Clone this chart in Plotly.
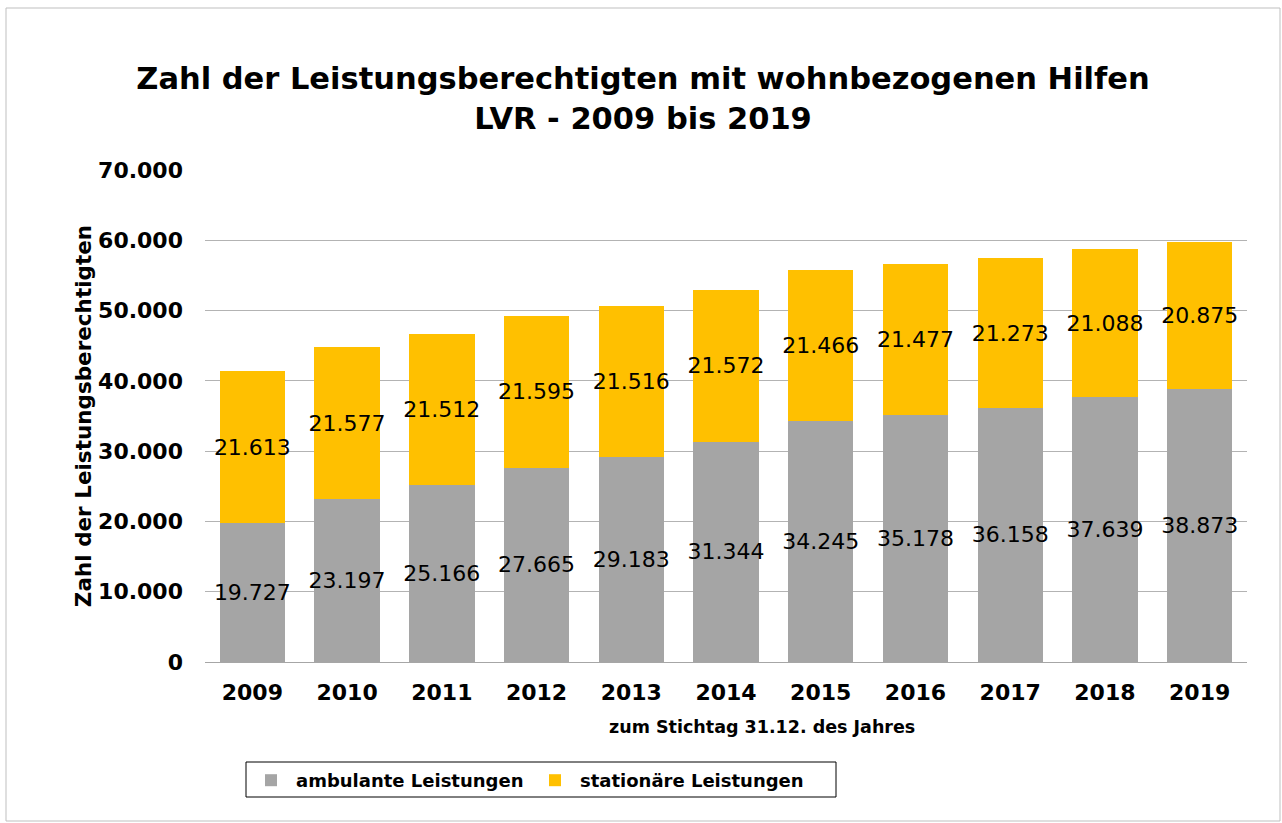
import plotly.graph_objects as go

years = ["2009", "2010", "2011", "2012", "2013", "2014", "2015", "2016", "2017", "2018", "2019"]
ambulant = [19727, 23197, 25166, 27665, 29183, 31344, 34245, 35178, 36158, 37639, 38873]
stationaer = [21613, 21577, 21512, 21595, 21516, 21572, 21466, 21477, 21273, 21088, 20875]

W, H = 1282, 823
L, R, T, B = 205, 1247, 170, 662  # plot area pixels

def px_x(p):
    return (p - L) / (R - L)

def px_y(p):
    return (B - p) / (B - T)

FONT = "DejaVu Sans"

fig = go.Figure()
fig.add_trace(go.Bar(
    x=years, y=ambulant, name="<b>ambulante Leistungen</b>",
    marker=dict(color="#A5A5A5", line=dict(width=0)),
    texttemplate="%{y:,}", textposition="inside", insidetextanchor="middle",
    textangle=0, constraintext="none",
    textfont=dict(family=FONT, size=22, color="black"),
))
fig.add_trace(go.Bar(
    x=years, y=stationaer, name="<b>stationäre Leistungen</b>",
    marker=dict(color="#FFC000", line=dict(width=0)),
    texttemplate="%{y:,}", textposition="inside", insidetextanchor="middle",
    textangle=0, constraintext="none",
    textfont=dict(family=FONT, size=22, color="black"),
))

fig.update_layout(
    width=W, height=H,
    barmode="stack", bargap=0.31,
    separators=",.",
    paper_bgcolor="white", plot_bgcolor="white",
    margin=dict(l=L, r=W - R, t=T, b=H - B, pad=0),
    font=dict(family=FONT, color="black"),
    title=dict(
        text="<b>Zahl der Leistungsberechtigten mit wohnbezogenen Hilfen<br>LVR - 2009 bis 2019</b>",
        font=dict(family=FONT, size=30.5, color="black"),
        x=643 / W, xanchor="center", xref="container",
        y=1 - 89 / H, yanchor="middle", yref="container",
    ),
    xaxis=dict(
        showgrid=False, showline=True, linecolor="#A6A6A6", linewidth=1,
        ticks="", tickfont=dict(family=FONT, size=22, color="black"),
        ticklabelstandoff=11,
    ),
    yaxis=dict(
        range=[0, 70000], dtick=10000, tickformat=",",
        showgrid=True, gridcolor="#B3B3B3", gridwidth=1,
        zeroline=False, showline=False, ticks="",
        tickfont=dict(family=FONT, size=22, color="black"),
        ticklabelstandoff=21,
        title=dict(text="<b>Zahl der Leistungsberechtigten</b>",
                   font=dict(family=FONT, size=21.5, color="black"), standoff=0),
    ),
    annotations=[dict(
        text="<b>zum Stichtag 31.12. des Jahres</b>",
        xref="paper", yref="paper", x=px_x(762), y=px_y(727),
        xanchor="center", yanchor="middle", showarrow=False,
        font=dict(family=FONT, size=17.5, color="black"),
    )],
    showlegend=True,
    legend=dict(
        orientation="h",
        x=px_x(246), xanchor="left", y=px_y(762), yanchor="top",
        borderwidth=0, bgcolor="rgba(0,0,0,0)",
        font=dict(family=FONT, size=18, color="black"),
        traceorder="normal", entrywidth=229, entrywidthmode="pixels",
        itemwidth=40,
    ),
    shapes=[
        dict(
            type="rect", xref="paper", yref="paper",
            x0=px_x(6), x1=px_x(1280), y0=px_y(821), y1=px_y(8),
            line=dict(color="#BFBFBF", width=1), fillcolor="rgba(0,0,0,0)", layer="below",
        ),
        dict(
            type="rect", xref="paper", yref="paper",
            x0=px_x(246), x1=px_x(836), y0=px_y(797), y1=px_y(762),
            line=dict(color="black", width=1), fillcolor="rgba(0,0,0,0)", layer="below",
        ),
    ],
)
fig.update_xaxes(tickprefix="<b>", ticksuffix="</b>")
fig.update_yaxes(tickprefix="<b>", ticksuffix="</b>")

fig.write_html("out.html", config={"displayModeBar": False},
               post_script="document.body.style.margin='0';")
